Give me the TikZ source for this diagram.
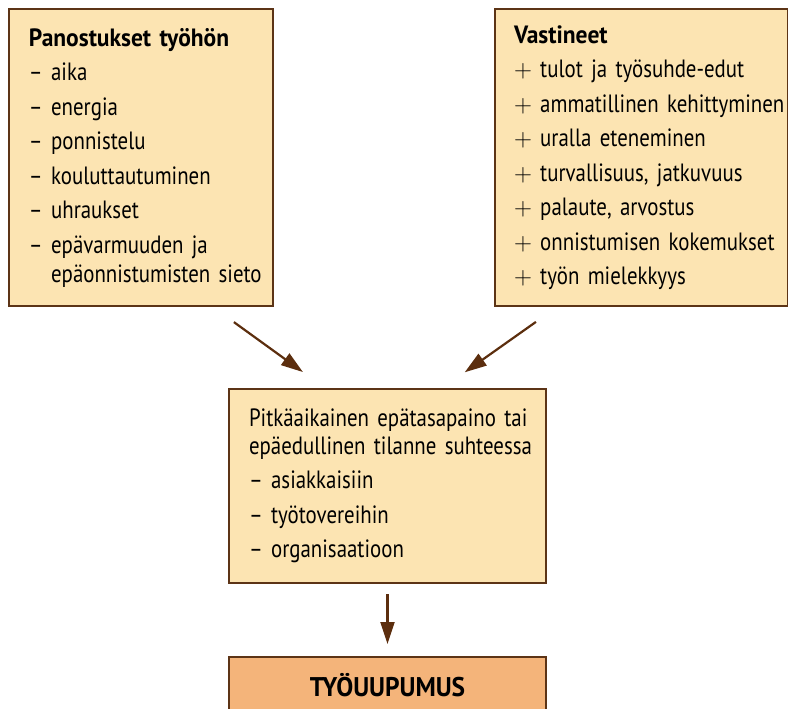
\documentclass[tikz,border=0pt]{standalone}
\usepackage{fontspec}
\setmainfont{PT Sans}[FakeStretch=0.835,BoldFeatures={FakeStretch=0.94}]
\usetikzlibrary{positioning,calc,arrows.meta}
\definecolor{boxfill}{RGB}{252,228,178}
\definecolor{boxline}{RGB}{92,52,22}
\definecolor{endfill}{RGB}{244,180,122}
\definecolor{arrowcol}{RGB}{92,46,14}

\begin{document}
\begin{tikzpicture}[x=1pt,y=-1pt,
  box/.style={draw=boxline, line width=2pt, fill=boxfill, anchor=north west,
    align=left, inner xsep=0pt, inner ysep=0pt,
    font={\fontsize{25}{34.5}\selectfont\spaceskip=4.6pt plus 2pt minus 1pt\relax}},
  pad/.style={execute at begin node={\leftskip=#1\relax}},
  arr/.style={draw=arrowcol, line width=2.2pt, -{Triangle[length=22pt,width=14pt]}}]

  \useasboundingbox (0,0) rectangle (788,709);
  \clip (0,0) rectangle (788,709);

  % Nodes

  \node[box, pad=20pt, text width=264pt, minimum height=297pt] (panos) at (8,8)
    {\textbf{Panostukset työhön}\\
    – aika\\
    – energia\\
    – ponnistelu\\
    – kouluttautuminen\\
    – uhraukset\\
    – epävarmuuden ja\\[-5.5pt]
    \hphantom{– }epäonnistumisten sieto}; %
  \node[box, pad=19pt, text width=293pt, minimum height=297pt] (vast) at (494,8)
    {\textbf{Vastineet}\\
    $+$ tulot ja työsuhde-edut\\
    $+$ ammatillinen kehittyminen\\
    $+$ uralla eteneminen\\
    $+$ turvallisuus, jatkuvuus\\
    $+$ palaute, arvostus\\
    $+$ onnistumisen kokemukset\\
    $+$ työn mielekkyys}; %
  \node[box, pad=20pt, text width=317pt, minimum height=194pt] (tila) at (228,388)
    {Pitkäaikainen epätasapaino tai\\[-6.5pt]
    epäedullinen tilanne suhteessa\\
    – asiakkaisiin\\
    – työtovereihin\\
    – organisaatioon}; %

  % Result
  \node[box, anchor=north, fill=endfill, align=center, text width=317pt,
    minimum height=56pt, font=\fontsize{27}{32}\selectfont\bfseries,
    below=72pt of tila] (uupu) {TYÖUUPUMUS}; %

  \draw[arr, shorten <=25.8pt, shorten >=27.2pt]
    ($(panos.south east)+(-61,0)$) -- ($(tila.north west)+(97,0)$); %
  \draw[arr, shorten <=25.8pt, shorten >=27.2pt]
    ($(vast.south west)+(63,0)$) -- ($(tila.north east)+(-104.5,0)$); %
  \draw[arr, shorten <=10pt, shorten >=12pt] (tila.south) -- (uupu.north); %

\end{tikzpicture}
\end{document}
